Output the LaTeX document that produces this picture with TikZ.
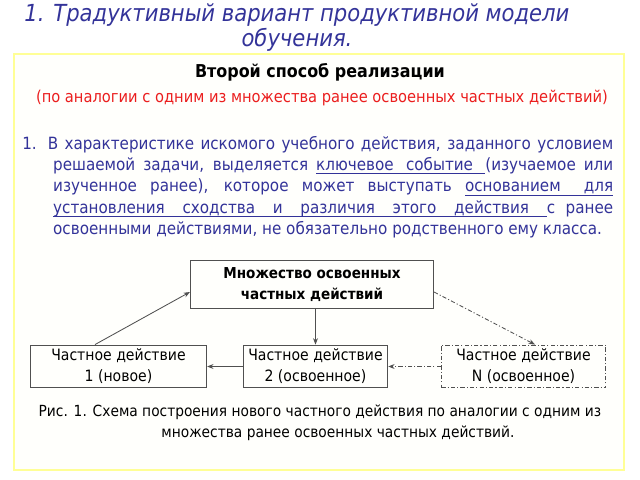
\documentclass[tikz,border=0pt]{standalone}
\usepackage{fontspec}
\setmainfont{DejaVu Sans Condensed}
\usetikzlibrary{arrows.meta,positioning}
\definecolor{titleblue}{RGB}{51,51,153}
\definecolor{textred}{RGB}{235,30,30}
\definecolor{frameyellow}{RGB}{255,255,150}
\definecolor{boxgray}{RGB}{80,80,80}
\newcommand{\txt}[1]{\fontsize{12}{15.1}\selectfont #1}
\newcommand*{\ulw}[1]{\leavevmode\setbox0\hbox{#1}\rlap{\rule[-2.6pt]{\wd0}{0.6pt}}\box0}
\newcommand*{\us}{\leaders\hrule height -2.0pt depth 2.6pt\hskip 0.33em plus 0.3em minus 0.1em}

\begin{document}
\begin{tikzpicture}[x=0.025cm,y=-0.025cm,
  box/.style={draw=boxgray,line width=0.7pt,inner sep=0pt,align=center,
    font=\fontsize{11.1}{14.8}\selectfont},
  link/.style={draw=boxgray,line width=0.6pt,-{Stealth[length=4.5pt,width=3.5pt]}},
  dashdot/.style={dash pattern=on 3pt off 1.5pt on 0.8pt off 1.5pt},
  title/.style={titleblue,inner sep=0pt,font=\fontsize{16.7}{17}\itshape\selectfont}]
\useasboundingbox (0,0) rectangle (640,480);
\draw[frameyellow,line width=1.6pt,fill=yellow!1] (14,54) rectangle (624,470);

\node[title] (title1) at (297,15) {1. Традуктивный вариант продуктивной модели};
\node[title] (title2) at (297,40) {обучения.};

\node[font=\fontsize{12.6}{14}\bfseries\selectfont] (head) at (320,72) {Второй способ реализации};
\node[textred,font=\fontsize{11.6}{14}\selectfont] (sub) at (322,98)
  {(по аналогии с одним из множества ранее освоенных частных действий)};

\node[titleblue,anchor=north west,inner sep=0pt,text width=420.3pt,align=justify] (para) at (22,136) {\txt{%
  \hangindent=22pt\hangafter=1
  1. В характеристике искомого учебного действия, заданного условием\linebreak
  решаемой задачи, выделяется \ulw{ключевое}\us\ulw{событие}\us(изучаемое или\linebreak
  изученное ранее), которое может выступать \ulw{основанием}\us\ulw{для}\linebreak
  \ulw{установления}\us\ulw{сходства}\us\ulw{и}\us\ulw{различия}\us\ulw{этого}\us\ulw{действия}\us с ранее\linebreak
  освоенными действиями, не обязательно родственного ему класса.\par}};

\node[box,font=\fontsize{10.7}{14.8}\bfseries\selectfont,minimum width=172.9pt,minimum height=34.7pt]
  (set) at (312,284.5) {Множество освоенных\\частных действий};
\node[box,minimum width=125.4pt,minimum height=30.5pt] (act1) at (118.5,366.5)
  {Частное действие\\1 (новое)};
\node[box,minimum width=102.8pt,minimum height=30.5pt] (act2) at (315.5,366.5)
  {Частное действие\\2 (освоенное)};
\node[box,dashdot,minimum width=116.9pt,minimum height=30.5pt] (actn) at (523.5,366.5)
  {Частное действие\\N (освоенное)};

\draw[link] (act1.north -| 95,0) -- (set.west |- 0,292);
\draw[link] (set.south -| act2.north) -- (act2.north);
\draw[link] (act2.west) -- (act1.east);
\draw[link,dashdot] (set.east |- 0,292) -- (actn.north -| 535,0);
\draw[link,dashdot] (actn.west) -- (act2.east);

\node[font=\fontsize{10.9}{14}\selectfont] (cap1) at (320,412)
  {Рис. 1. Схема построения нового частного действия по аналогии с одним из};
\node[font=\fontsize{10.9}{14}\selectfont] (cap2) at (338,433)
  {множества ранее освоенных частных действий.};
\end{tikzpicture}
\end{document}
